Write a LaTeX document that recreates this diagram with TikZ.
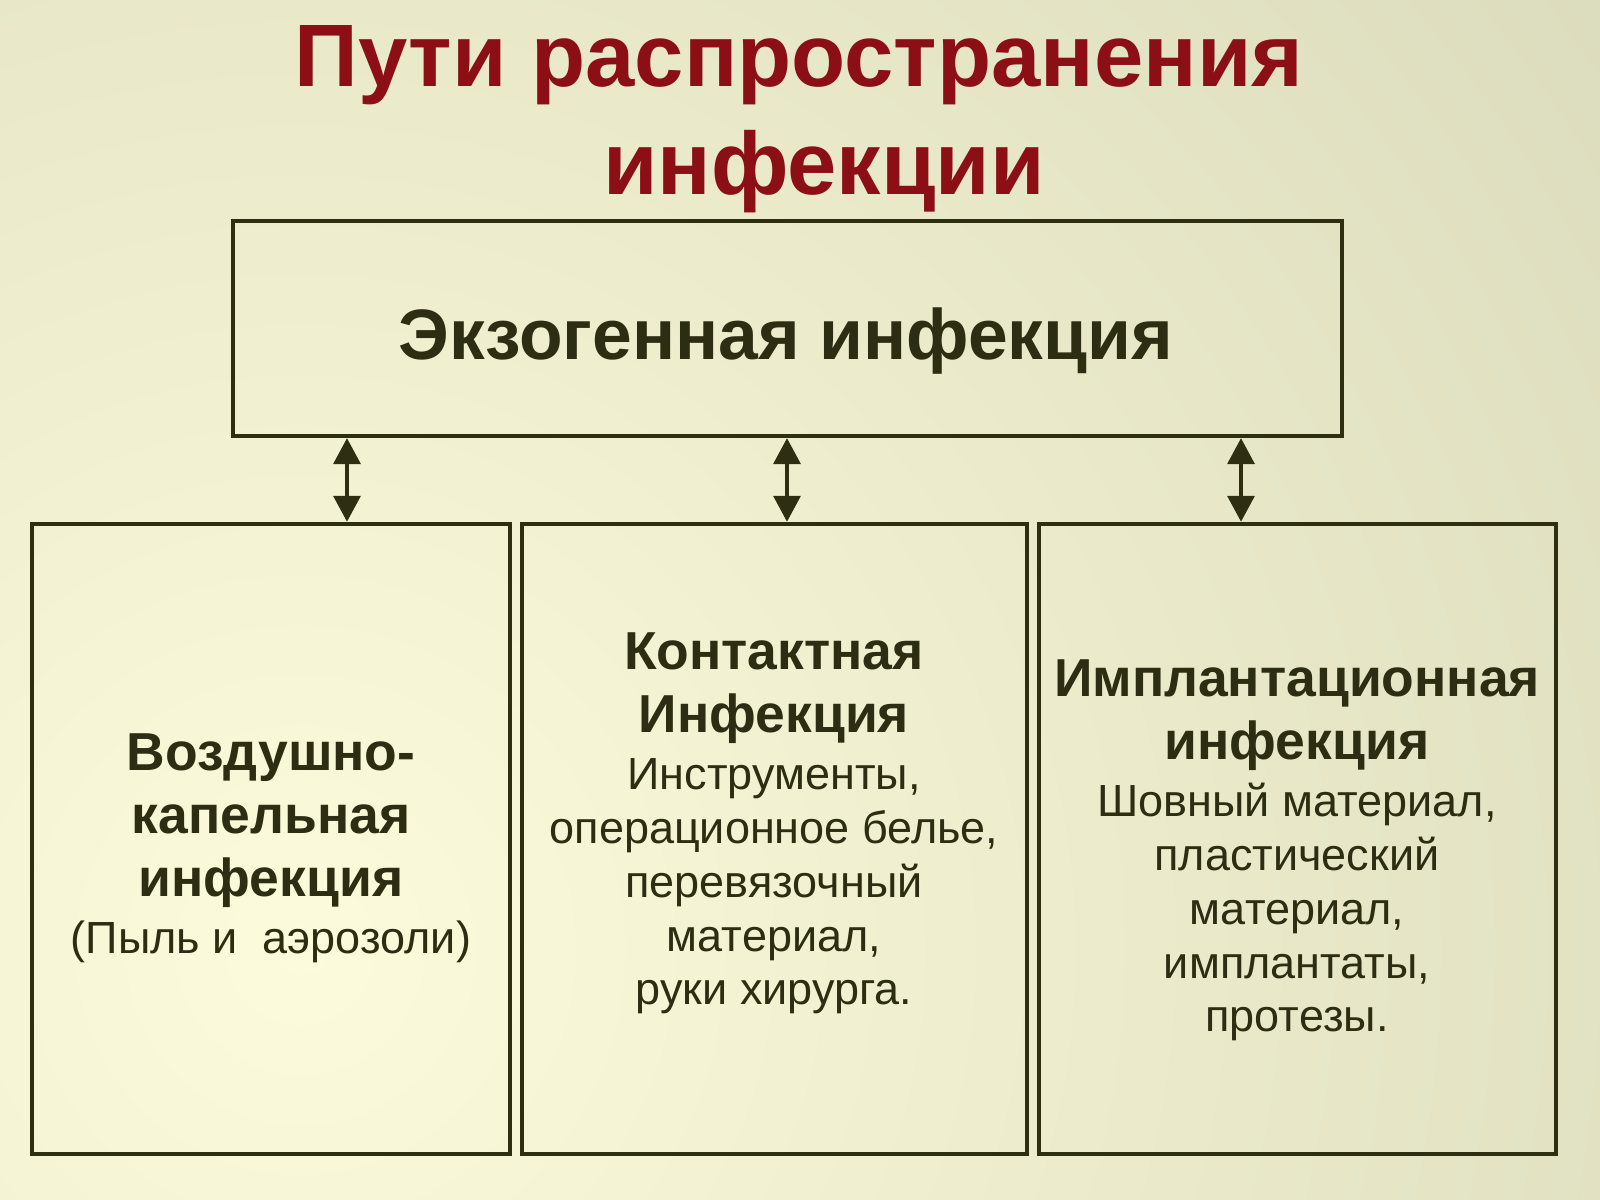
\documentclass[tikz,border=0pt]{standalone}
\usepackage{fontspec}
\setmainfont{Liberation Sans}
\usetikzlibrary{arrows.meta}
\definecolor{bginner}{HTML}{FCFCDC}
\definecolor{bgouter}{HTML}{C8C8AB}
\definecolor{boxline}{HTML}{2E2E12}
\definecolor{textdark}{HTML}{2D2D14}
\definecolor{titlered}{HTML}{8B0F14}
\newcommand{\headfont}{\fontsize{15.2}{17.9}\selectfont\bfseries}
\newcommand{\itemfont}{\fontsize{12.8}{15.1}\selectfont\mdseries}
\tikzset{
  routebox/.style={draw=boxline,line width=1.15pt,line join=miter,inner sep=0pt},
  routetext/.style={text=textdark,align=center,inner sep=0pt,anchor=north},
  routelink/.style={draw=boxline,line width=1.2pt,<->}
}

\begin{document}
\begin{tikzpicture}[line cap=round,line join=round,>={Triangle[width=7.6pt,length=7.4pt]},x=0.01cm,y=-0.01cm]
\useasboundingbox (0,0) rectangle (1600,1200);
\clip (0,0) rectangle (1600,1200);
\shade [inner color=bginner,outer color=bgouter] (-2300,-1650) rectangle (2900,3550);
% title
\node [text=titlered,font=\fontsize{25.2}{30}\selectfont\bfseries,anchor=base] (title) at (799,87) {Пути распространения};
\node [text=titlered,font=\fontsize{25.2}{30}\selectfont\bfseries,anchor=base] (titlesub) at (824,194) {инфекции};
% boxes
\node [routebox,minimum width=11.09cm,minimum height=2.15cm] (exo) at (787.5,328.5) {};
\node [routebox,minimum width=4.78cm,minimum height=6.30cm] (air) at (271,839) {};
\node [routebox,minimum width=5.05cm,minimum height=6.30cm] (contact) at (774.5,839) {};
\node [routebox,minimum width=5.17cm,minimum height=6.30cm] (implant) at (1297.5,839) {};
\node [text=textdark,font=\fontsize{20.3}{24}\selectfont\bfseries,anchor=base] (exotext) at (786,359) {Экзогенная инфекция};
% texts
\node [routetext,font=\headfont] (airtext) at (271,733) {Воздушно-\\капельная\\инфекция\\[-1.6pt]{\itemfont (Пыль и\ \ аэрозоли)}};
\node [routetext,font=\headfont] (contacttext) at (774,632) {Контактная\\Инфекция\\[-1.6pt]{\itemfont Инструменты,}\\[-2.6pt]{\itemfont операционное белье,}\\[-2.6pt]{\itemfont перевязочный}\\[-2.6pt]{\itemfont материал,}\\[-2.6pt]{\itemfont руки хирурга.}};
\node [routetext,font=\headfont] (implanttext) at (1297,659) {Имплантационная\\инфекция\\[-1.6pt]{\itemfont Шовный материал,}\\[-2.6pt]{\itemfont пластический}\\[-2.6pt]{\itemfont материал,}\\[-2.6pt]{\itemfont имплантаты,}\\[-2.6pt]{\itemfont протезы.}};
% links
\coordinate (airlink) at (347,480);
\coordinate (contactlink) at (787,480);
\coordinate (implantlink) at (1241,480);
\draw [routelink] (exo.south -| airlink) -- (air.north -| airlink);
\draw [routelink] (exo.south -| contactlink) -- (contact.north -| contactlink);
\draw [routelink] (exo.south -| implantlink) -- (implant.north -| implantlink);
\end{tikzpicture}
\end{document}
